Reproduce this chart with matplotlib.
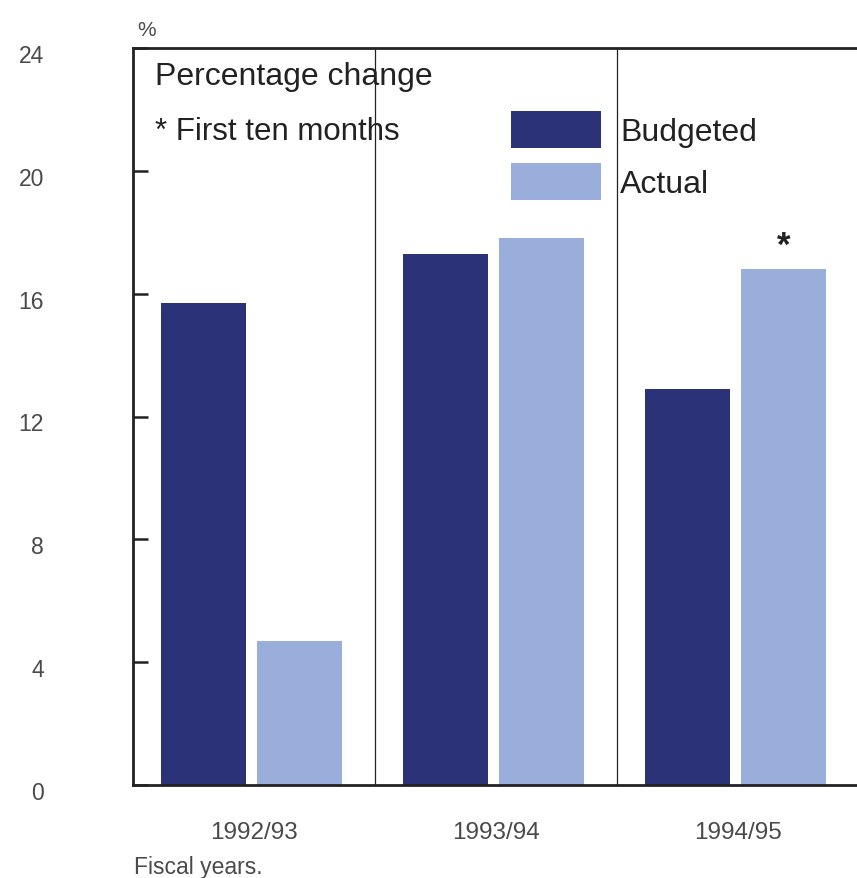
import numpy as np
import matplotlib
matplotlib.use("Agg")
import matplotlib.pyplot as plt
import matplotlib.transforms as mtransforms
from matplotlib.patches import Patch

plt.rcParams["font.family"] = ["Liberation Sans", "DejaVu Sans"]

years = ["1992/93", "1993/94", "1994/95"]
budgeted = [15.7, 17.3, 12.9]
actual = [4.7, 17.8, 16.8]
partial_year = [False, False, True]   # actual figure covers first ten months only
y_ticks = [0, 4, 8, 12, 16, 20, 24]

dark = "#2b3278"
light = "#9aaedb"
ink = "#222222"
grey = "#4a4a4a"

fig = plt.figure(figsize=(8.57, 8.79), dpi=100)
ax = fig.add_axes([133 / 857, 1 - 786 / 879, 726 / 857, 737 / 879])

x = np.arange(len(years))
w = 0.352
ax.bar(x - 0.21, budgeted, width=w, color=dark)
ax.bar(x + 0.188, actual, width=w, color=light)

# asterisk on the partial-year bar
for xi, v, flag in zip(x, actual, partial_year):
    if flag:
        ax.annotate("*", xy=(xi + 0.188, v), xytext=(0, 5),
                    textcoords="offset points", ha="center", va="bottom",
                    fontsize=25, fontweight="bold", color=ink)

# thin separators between fiscal years
for sep in x[:-1] + 0.5:
    ax.axvline(sep, color=ink, lw=0.9)

ax.set_xlim(-0.5, len(years) - 0.5)
ax.set_ylim(0, 24)
ax.set_yticks(y_ticks)
ax.set_yticklabels([str(t) for t in y_ticks])
ax.set_xticks(x)
ax.set_xticklabels(years)

ax.tick_params(axis="y", direction="in", length=11, width=1.8, color=ink,
               pad=64, labelsize=16.5, labelcolor=grey)
ax.tick_params(axis="x", length=0, pad=26, labelsize=17.5, labelcolor=grey)
shift = mtransforms.ScaledTranslation(0, -5 / 100, fig.dpi_scale_trans)
for lab in ax.get_yticklabels():
    lab.set_transform(lab.get_transform() + shift)

for side in ["left", "top", "bottom"]:
    ax.spines[side].set_linewidth(2)
    ax.spines[side].set_color(ink)
ax.spines["right"].set_visible(False)

ax.text(0.030, 0.9512, "Percentage change", transform=ax.transAxes,
        fontsize=23, color=ink, va="baseline")
ax.text(0.030, 0.8765, "* First ten months", transform=ax.transAxes,
        fontsize=22.5, color=ink, va="baseline")
ax.text(0.006, 1.012, "%", transform=ax.transAxes, fontsize=15,
        color=grey, va="bottom")
fig.text(134 / 857, 1 - 868 / 879, "Fiscal years.", fontsize=16.5,
         color=grey, va="center")

handles = [Patch(facecolor=dark), Patch(facecolor=light)]
leg = ax.legend(handles, ["Budgeted", "Actual"], loc="upper left",
                bbox_to_anchor=(0.5207, 0.9145), frameon=False, fontsize=23,
                handlelength=2.82, handleheight=1.41, handletextpad=0.6,
                labelspacing=0.47, borderpad=0, borderaxespad=0)
for t in leg.get_texts():
    t.set_color(ink)

fig.savefig("out.png", dpi=100, facecolor="white")
